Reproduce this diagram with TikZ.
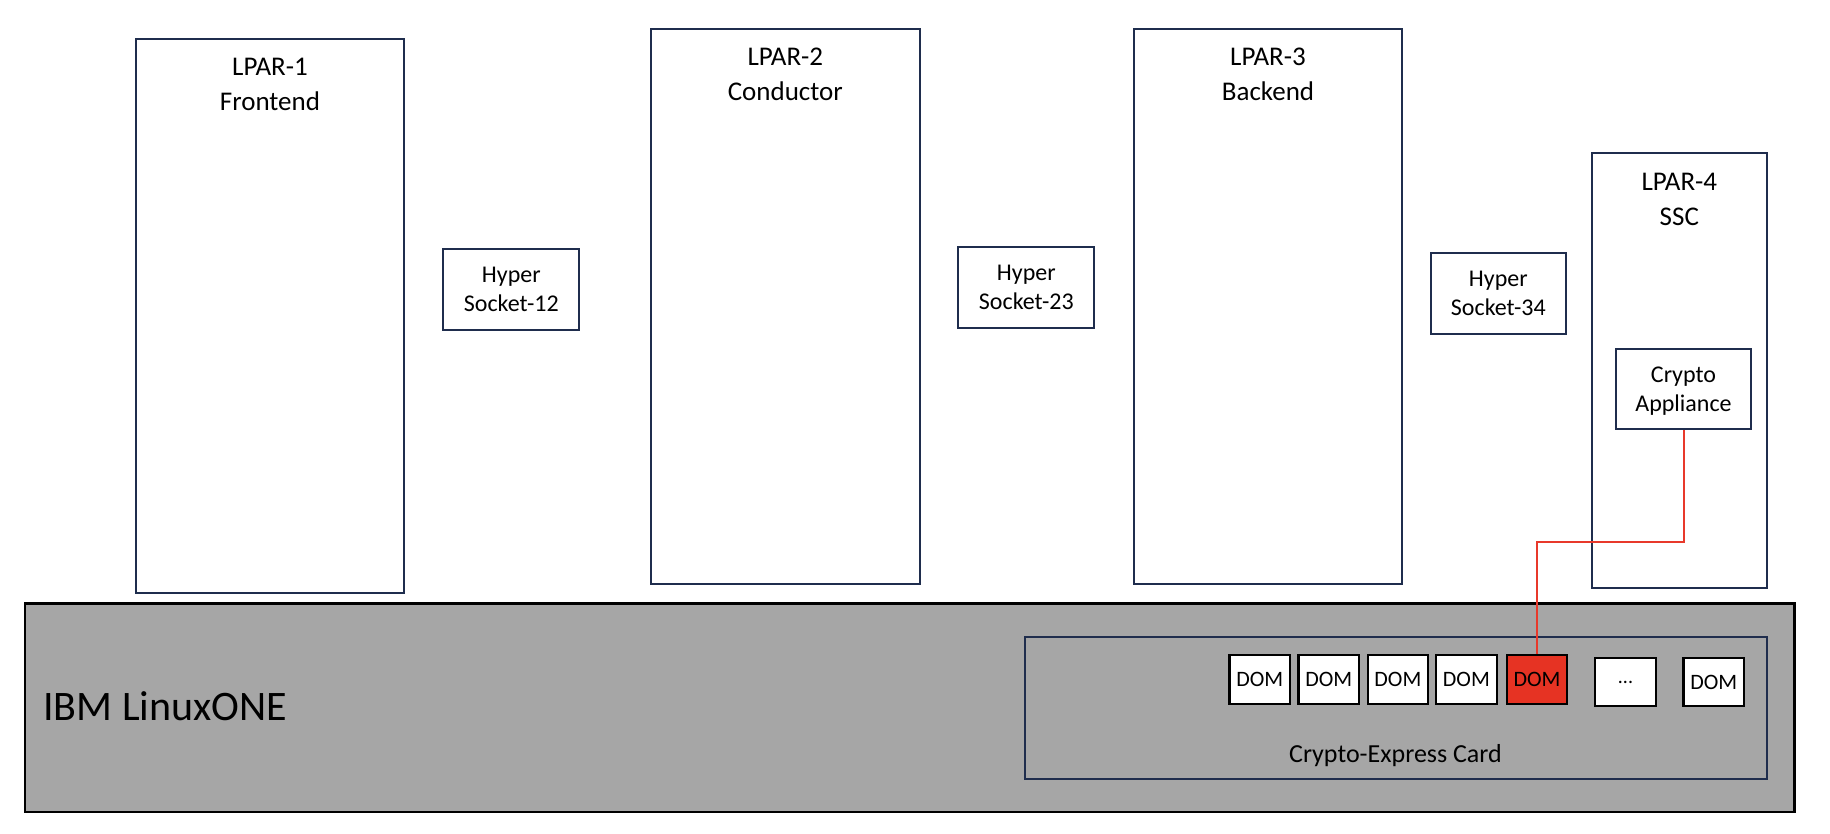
\documentclass[tikz,border=0pt]{standalone}
\usepackage{fontspec}
\setmainfont{Carlito}
\definecolor{navy}{HTML}{1F2D4D}
\definecolor{boxgray}{HTML}{A6A6A6}
\definecolor{domred}{HTML}{E63323}
\definecolor{linered}{HTML}{E8392B}
\begin{document}
\begin{tikzpicture}[x=0.5pt,y=-0.5pt,
  lpar/.style={draw=navy, line width=1pt, fill=white, inner sep=0pt, rectangle},
  lpartext/.style={anchor=north, inner sep=0pt, align=center, font=\fontsize{13.5}{17.5}\selectfont},
  hsock/.style={draw=navy, line width=1pt, fill=white, inner sep=0pt, align=center, font=\fontsize{12}{14.5}\selectfont},
  dombox/.style={draw=black, line width=1.1pt, fill=white, inner sep=0pt, minimum width=30.3pt, font=\fontsize{11}{13}\selectfont},
  redline/.style={draw=linered, line width=1pt}
]
\useasboundingbox (0,0) rectangle (1830,834);

% LPAR frames
\node[lpar, minimum width=134.2pt, minimum height=276.8pt] (lpar1) at (270,316) {};
\node[lpar, minimum width=134.7pt, minimum height=277.5pt] (lpar2) at (785.3,306.5) {};
\node[lpar, minimum width=134pt, minimum height=277.5pt] (lpar3) at (1268,306.5) {};
\node[lpar, minimum width=87.7pt, minimum height=217.5pt] (lpar4) at (1679.3,370.2) {};

\node[lpartext] (t1) at (270,57.3) {LPAR-1\\Frontend};
\node[lpartext] (t2) at (785.3,48) {LPAR-2\\Conductor};
\node[lpartext] (t3) at (1268,48) {LPAR-3\\Backend};
\node[lpartext] (t4) at (1679.3,173) {LPAR-4\\SSC};

% HyperSockets
\node[hsock, minimum width=68pt, minimum height=40.5pt] (hs12) at (511.3,289.5) {Hyper\\Socket-12};
\node[hsock, minimum width=68pt, minimum height=40.8pt] (hs23) at (1026.3,287.5) {Hyper\\Socket-23};
\node[hsock, minimum width=67.3pt, minimum height=40.3pt] (hs34) at (1498.3,293.7) {Hyper\\Socket-34};

% Crypto appliance
\node[hsock, minimum width=67.8pt, minimum height=40.3pt, text depth=0pt] (ca) at (1683.5,389) {Crypto\\Appliance};

% IBM LinuxONE machine
\node[draw=black, line width=1.2pt, fill=boxgray, inner sep=0pt, minimum width=884.8pt, minimum height=104.2pt] (main) at (909.8,707.5) {};
\node[anchor=base west, inner sep=0pt, font=\fontsize{21}{25}\selectfont] (ibm) at (43,720) {IBM LinuxONE};

% Crypto-Express card
\node[draw=navy, line width=1pt, inner sep=0pt, minimum width=371.1pt, minimum height=71pt] (card) at (1396.2,708) {};
\node[anchor=base, inner sep=0pt, font=\fontsize{13}{16}\selectfont] (cardtext) at (1395.5,762) {Crypto-Express Card};

% Domains
\node[dombox, minimum height=24.5pt] (dom1) at (1259.7,679.5) {DOM};
\node[dombox, minimum height=24.5pt] (dom2) at (1328.8,679.5) {DOM};
\node[dombox, minimum height=24.5pt] (dom3) at (1397.9,679.5) {DOM};
\node[dombox, minimum height=24.5pt] (dom4) at (1466.4,679.5) {DOM};
\node[dombox, minimum height=24.5pt, fill=domred] (domr) at (1537,679.5) {DOM};
\node[dombox, minimum height=24.2pt, font=\fontsize{10}{12}\selectfont] (dots) at (1625.5,682) {...};
\node[dombox, minimum height=24.2pt] (dom7) at (1713.7,682) {DOM};

% Connection appliance -> domain
\coordinate (bend) at (1600,542);
\draw[redline] (ca.south) |- (bend) -| (domr.north);
\end{tikzpicture}
\end{document}
